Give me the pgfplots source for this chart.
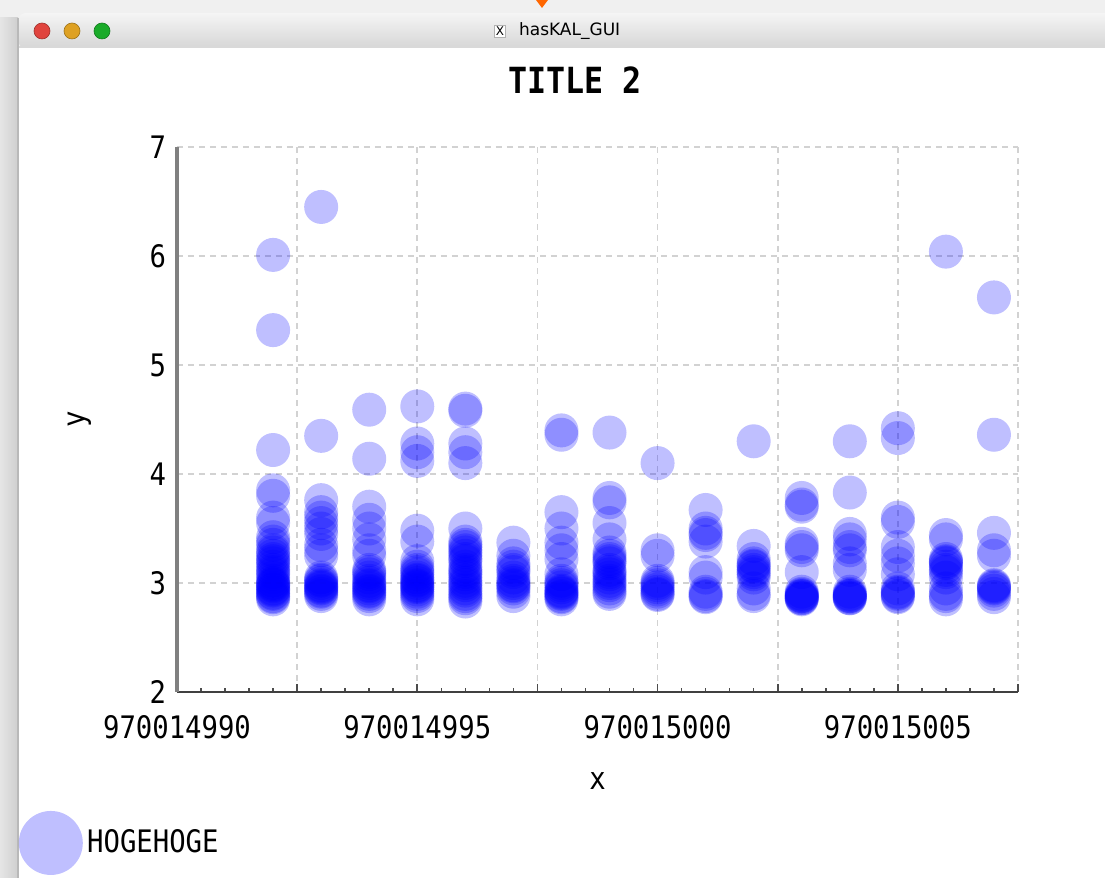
\documentclass[border=0pt]{standalone}
\usepackage{pgfplots}
\pgfplotsset{compat=1.18}
\usepackage{pgfplotstable}
\usepackage{fontspec}
\setmainfont{DejaVu Sans Mono}[FakeStretch=0.88]
\newfontfamily\uifont{DejaVu Sans}
\definecolor{tlred}{HTML}{E0443E}
\definecolor{tlyellow}{HTML}{DEA123}
\definecolor{tlgreen}{HTML}{1AAB29}

% x is given as offset from 970014990
\pgfplotstableread{
x y
2 6.01
2 5.32
2 4.22
2 3.85
2 3.80
2 3.60
2 3.55
2 3.42
2 3.38
2 3.35
2 3.30
2 3.28
2 3.25
2 3.22
2 3.20
2 3.18
2 3.15
2 3.12
2 3.10
2 3.08
2 3.05
2 3.02
2 3.00
2 2.99
2 2.98
2 2.97
2 2.95
2 2.94
2 2.93
2 2.91
2 2.90
2 2.88
2 2.87
2 2.85
3 6.45
3 4.35
3 3.76
3 3.65
3 3.60
3 3.55
3 3.50
3 3.45
3 3.35
3 3.30
3 3.25
3 3.05
3 3.03
3 3.02
3 3.00
3 2.98
3 2.97
3 2.96
3 2.95
3 2.93
3 2.92
3 2.90
3 2.88
4 4.59
4 4.14
4 3.70
4 3.58
4 3.50
4 3.40
4 3.30
4 3.25
4 3.12
4 3.10
4 3.08
4 3.05
4 3.02
4 3.00
4 2.98
4 2.97
4 2.95
4 2.93
4 2.92
4 2.90
4 2.88
4 2.85
5 4.62
5 4.28
5 4.20
5 4.12
5 3.48
5 3.38
5 3.20
5 3.15
5 3.12
5 3.10
5 3.08
5 3.05
5 3.03
5 3.02
5 3.00
5 2.98
5 2.97
5 2.96
5 2.94
5 2.92
5 2.90
5 2.88
5 2.85
6 4.60
6 4.58
6 4.28
6 4.20
6 4.10
6 3.50
6 3.38
6 3.35
6 3.33
6 3.30
6 3.28
6 3.25
6 3.22
6 3.20
6 3.15
6 3.12
6 3.10
6 3.08
6 3.05
6 3.02
6 3.00
6 2.98
6 2.95
6 2.93
6 2.90
6 2.88
6 2.86
6 2.83
7 3.37
7 3.25
7 3.18
7 3.15
7 3.12
7 3.10
7 3.05
7 3.02
7 3.00
7 2.98
7 2.97
7 2.95
7 2.92
7 2.88
8 4.40
8 4.36
8 3.65
8 3.50
8 3.37
8 3.30
8 3.22
8 3.08
8 3.02
8 3.00
8 2.98
8 2.96
8 2.93
8 2.92
8 2.91
8 2.90
8 2.88
8 2.87
8 2.85
9 4.38
9 3.78
9 3.74
9 3.55
9 3.40
9 3.28
9 3.25
9 3.22
9 3.20
9 3.18
9 3.12
9 3.10
9 3.08
9 3.05
9 3.02
9 3.00
9 2.98
9 2.95
9 2.92
9 2.90
10 4.10
10 3.30
10 3.25
10 3.02
10 3.00
10 2.98
10 2.96
10 2.94
10 2.92
10 2.90
10 2.89
11 3.67
11 3.50
11 3.46
11 3.44
11 3.38
11 3.10
11 3.05
11 2.92
11 2.90
11 2.88
11 2.87
12 4.30
12 3.34
12 3.22
12 3.18
12 3.16
12 3.15
12 3.12
12 3.10
12 3.08
12 3.05
12 2.95
12 2.90
12 2.88
13 3.78
13 3.72
13 3.70
13 3.36
13 3.33
13 3.30
13 3.10
13 2.92
13 2.90
13 2.89
13 2.88
13 2.88
13 2.87
13 2.86
13 2.86
13 2.85
14 4.30
14 3.83
14 3.45
14 3.40
14 3.33
14 3.30
14 3.18
14 3.12
14 2.92
14 2.90
14 2.89
14 2.88
14 2.88
14 2.87
14 2.86
14 2.86
15 4.42
15 4.33
15 3.60
15 3.56
15 3.33
15 3.25
15 3.18
15 3.08
15 2.95
15 2.92
15 2.91
15 2.90
15 2.88
15 2.87
16 6.04
16 3.44
16 3.40
16 3.22
16 3.20
16 3.19
16 3.18
16 3.15
16 3.12
16 3.10
16 3.05
16 2.95
16 2.90
16 2.88
16 2.85
17 5.62
17 4.36
17 3.46
17 3.30
17 3.25
17 2.98
17 2.97
17 2.96
17 2.95
17 2.93
17 2.90
17 2.87
}\datatable

\begin{document}
\begin{tikzpicture}
\path[use as bounding box] (0pt,0pt) rectangle (552.5pt,439pt);
% desktop / window chrome
\fill[gray!12] (0pt,0pt) rectangle (552.5pt,439pt);
\fill[white] (9pt,0pt) rectangle (552.5pt,415pt);
\shade[top color=gray!8, bottom color=gray!32, rounded corners=4pt] (9pt,415pt) -- (9pt,432.5pt) -- (560pt,432.5pt) -- (560pt,415pt) -- cycle;
\fill[gray!30] (9pt,415pt) rectangle (552.5pt,416pt);
\shade[left color=gray!20, right color=gray!38] (0pt,0pt) rectangle (9pt,430pt);
\draw[gray!55, line width=0.6pt] (9pt,0pt) -- (9pt,430pt);
\fill[tlred, draw=tlred!70!black, line width=0.3pt] (21pt,423.5pt) circle (4pt);
\fill[tlyellow, draw=tlyellow!70!black, line width=0.3pt] (36pt,423.5pt) circle (4pt);
\fill[tlgreen, draw=tlgreen!70!black, line width=0.3pt] (51pt,423.5pt) circle (4pt);
\node[draw=gray!60, fill=white, inner sep=0.8pt, font=\uifont\fontsize{6}{7}\selectfont] at (250pt,423.5pt) {X};
\node[font=\uifont\fontsize{8.5}{10}\selectfont, anchor=west] at (256pt,423.5pt) {hasKAL\_GUI};
\fill[orange!80!red] (268pt,439pt) -- (274pt,439pt) -- (271pt,435pt) -- cycle;

\begin{axis}[
  at={(88.5pt,93pt)}, anchor=south west,
  scale only axis, width=420.5pt, height=272.5pt,
  xmin=0, xmax=17.5, ymin=2, ymax=7,
  axis lines*=left,
  xtick={0,2.5,5,7.5,10,12.5,15,17.5},
  xticklabels={970014990,,970014995,,970015000,,970015005,},
  minor x tick num=4,
  ytick={2,3,4,5,6,7},
  grid=major,
  major grid style={gray!35, dash pattern=on 3pt off 2.5pt, line width=0.8pt},
  tick align=inside,
  x axis line style={black!75, line width=1pt},
  y axis line style={black!50, line width=1.6pt},
  major tick length=4pt, minor tick length=2pt,
  xtick style={black!70, line width=0.8pt},
  minor x tick style={black!70, line width=0.8pt},
  ytick style={draw=none},
  tick label style={font=\fontsize{15.5}{18}\selectfont, text=black},
  /pgf/number format/assume math mode=true,
  xticklabel style={anchor=center, yshift=-17.5pt},
  yticklabel style={anchor=east, xshift=-2pt},
  title={TITLE 2},
  title style={font=\bfseries\fontsize{18}{20}\selectfont, at={(axis description cs:0.473,1.101)}, anchor=center},
  xlabel={x},
  xlabel style={font=\fontsize{15.5}{18}\selectfont, at={(axis description cs:0.5,-0.164)}, anchor=center},
  ylabel={y},
  ylabel style={font=\fontsize{15.5}{18}\selectfont, at={(axis description cs:-0.116,0.5)}, anchor=center, rotate=0},
  legend style={draw=none, fill=none, inner sep=0pt, at={(axis description cs:-0.151,-0.277)}, anchor=west, xshift=-16pt, font=\fontsize{15.5}{18}\selectfont},
  legend image code/.code={\path[fill=blue, fill opacity=0.25, draw opacity=0] (0pt,0pt) circle (16pt);},
  legend cell align=left,
]
\addplot[only marks, color=blue, draw opacity=0, mark=*, mark size=8.5pt, mark options={draw opacity=0, fill=blue, fill opacity=0.25}] table[x=x,y=y] {\datatable};
\addlegendentry{HOGEHOGE}
\end{axis}
\end{tikzpicture}
\end{document}
